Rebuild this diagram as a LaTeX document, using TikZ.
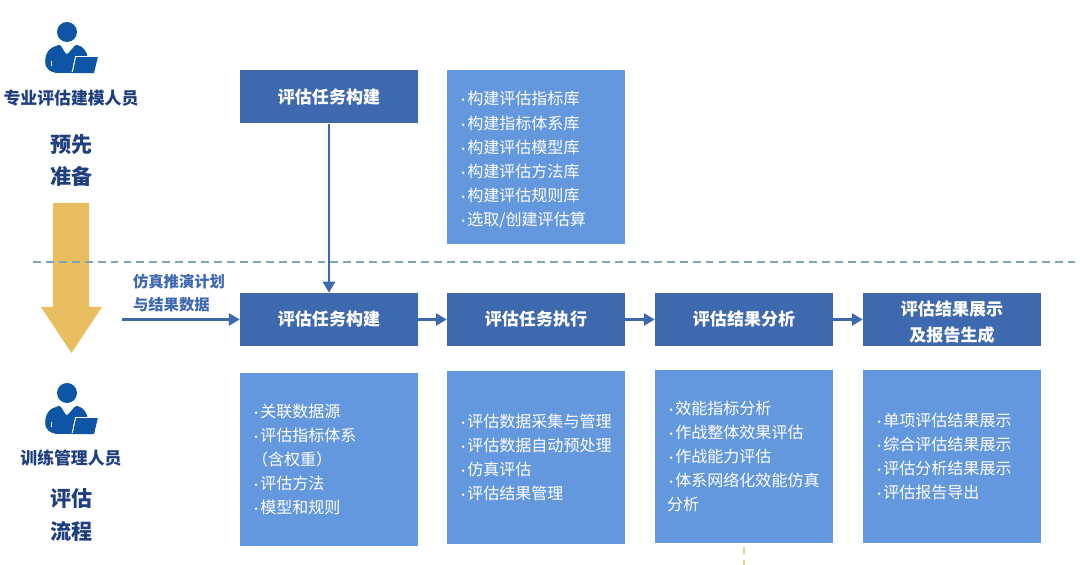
\documentclass[tikz,border=0pt]{standalone}
\usepackage{fontspec}
\usepackage{xcolor}
\setmainfont{Noto Sans CJK SC}
\usetikzlibrary{arrows.meta}
\definecolor{HeadBlue}{HTML}{3F69AF}
\definecolor{ListBlue}{HTML}{6498DE}
\definecolor{InkBlue}{HTML}{1F3F7F}
\definecolor{IconBlue}{HTML}{0F55A6}
\definecolor{ArrowGold}{HTML}{E8BE60}
\definecolor{DashGray}{HTML}{7FA3B8}
\definecolor{DashGold}{HTML}{E2D59A}
\newcommand{\listdot}{\makebox[0.52em][c]{\fontsize{8}{8}\selectfont ·}}
\tikzset{
  headbox/.style={minimum width=4.45cm, minimum height=1.325cm, inner sep=0pt, fill=HeadBlue, text=white, align=center, font=\fontsize{12.1}{18.5}\selectfont\bfseries},
  listbox/.style={minimum height=#1, text width=3.85cm, inner xsep=0.3cm, inner ysep=0pt, fill=ListBlue, text=white, align=left, font=\fontsize{11.4}{17.2}\selectfont},
  rolelabel/.style={inner sep=0pt, text=InkBlue, font=\fontsize{12}{14}\selectfont\bfseries},
  phaselabel/.style={inner sep=0pt, text=InkBlue, align=center, font=\fontsize{15}{22.8}\selectfont\bfseries},
  datalabel/.style={inner sep=0pt, text=HeadBlue, align=left, font=\fontsize{10.9}{16.4}\selectfont\bfseries},
  flowarrow/.style={draw=HeadBlue, line width=1.8pt, -{Triangle[width=8.7pt,length=7.8pt]}},
  staff/.pic={
    \fill[IconBlue] (0,0) circle (0.25);%
    \fill[IconBlue, rounded corners=1.5pt] (-0.51,-0.91) -- (-0.55,-0.78) -- (-0.53,-0.575) -- (-0.425,-0.41) -- (-0.175,-0.31) -- (-0.01,-0.575) -- (0.225,-0.31) -- (0.41,-0.39) -- (0.53,-0.6) -- (0.2,-0.62) -- (0.12,-1.02) -- (-0.34,-1.02) -- cycle;%
    \draw[white, line width=0.6pt] (-0.39,-0.72) -- (-0.39,-0.86);%
    \fill[IconBlue, draw=white, line width=1.4pt, line join=miter] (0.225,-0.63) -- (0.77,-0.63) -- (0.675,-1.03) -- (0.14,-1.03) -- cycle;%
    \fill[IconBlue] (-0.09,-1.03) rectangle (0.675,-0.99);%
    \fill[IconBlue] (0.225,-0.63) -- (0.77,-0.63) -- (0.675,-1.03) -- (0.14,-1.03) -- cycle;%
  }
}
\begin{document}
\begin{tikzpicture}%
\useasboundingbox (0,0) rectangle (27,14.125);%
\fill[ArrowGold] (1.325,9.05) -- (2.225,9.05) -- (2.225,6.45) -- (2.55,6.45) -- (1.7875,5.3) -- (1.025,6.45) -- (1.325,6.45) -- cycle;%
\draw[DashGray, line width=1pt, dash pattern=on 5.6pt off 3.6pt] (0.825,7.575) -- (26.875,7.575);%
\pic at (1.675,13.325) {staff};%
\pic at (1.675,4.3) {staff};%
\node[rolelabel] (modeller) at (1.775,11.675) {专业评估建模人员};%
\node[phaselabel] (prepare) at (1.79,10.12) {预先\\准备};%
\node[rolelabel] (trainer) at (1.775,2.675) {训练管理人员};%
\node[phaselabel] (process) at (1.79,1.25) {评估\\流程};%
\node[headbox] (build) at (8.225,11.7) {评估任务构建};%
\node[listbox=4.35cm] (buildlist) at (13.4,10.2) {\rule{0pt}{14pt}\listdot 构建评估指标库\\\listdot 构建指标体系库\\\listdot 构建评估模型库\\\listdot 构建评估方法库\\\listdot 构建评估规则库\\\listdot 选取/创建评估算};%
\node[headbox] (task) at (8.225,6.1375) {评估任务构建};%
\node[headbox] (exec) at (13.4,6.1375) {评估任务执行};%
\node[headbox] (analysis) at (18.6,6.1375) {评估结果分析};%
\node[headbox] (report) at (23.8,6.1375) {\rule{0pt}{14pt}评估结果展示\\及报告生成};%
\node[listbox=4.325cm] (tasklist) at (8.225,2.6375) {\listdot 关联数据源\\\listdot 评估指标体系\\（含权重）\\\listdot 评估方法\\\listdot 模型和规则};%
\node[listbox=4.325cm] (execlist) at (13.4,2.6875) {\listdot 评估数据采集与管理\\\listdot 评估数据自动预处理\\\listdot 仿真评估\\\listdot 评估结果管理};%
\node[listbox=4.325cm] (analysislist) at (18.6,2.7125) {\listdot 效能指标分析\\\listdot 作战整体效果评估\\\listdot 作战能力评估\\\listdot 体系网络化效能仿真\\分析};%
\node[listbox=4.325cm] (reportlist) at (23.8,2.7125) {\listdot 单项评估结果展示\\\listdot 综合评估结果展示\\\listdot 评估分析结果展示\\\listdot 评估报告导出};%
\node[datalabel] (simdata) at (4.475,6.8) {仿真推演计划\\与结果数据};%
\coordinate (datastart) at (3.05,6.1375);%
\coordinate (dashend) at (18.6,0);%
\draw[flowarrow] (datastart) -- (task);%
\draw[flowarrow] (build) -- (task);%
\draw[flowarrow] (task) -- (exec);%
\draw[flowarrow] (exec) -- (analysis);%
\draw[flowarrow] (analysis) -- (report);%
\draw[DashGold, line width=1pt, dash pattern=on 4.5pt off 4.5pt] (analysislist.south) ++(0,-0.1) -- (dashend);%
\end{tikzpicture}
\end{document}
